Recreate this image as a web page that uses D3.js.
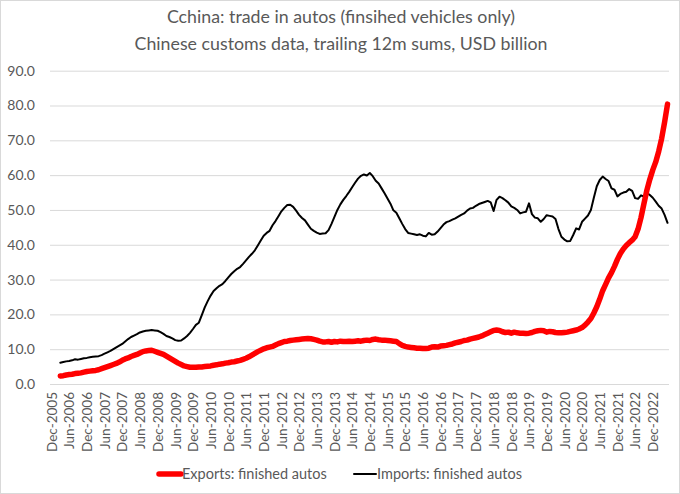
<!DOCTYPE html>
<html><head><meta charset="utf-8">
<script src="https://cdn.jsdelivr.net/npm/d3@7"></script>
<style>
body{margin:0;background:#fff;}
svg{display:block;font-family:Lato,"Open Sans",sans-serif;}
</style></head><body>
<svg id="c" width="680" height="494"></svg>
<script>
// Categories: monthly, Dec-2005 .. May-2023
const startMonth = new Date(2005, 11, 1);
const endMonth = new Date(2023, 4, 1);
const months = d3.timeMonth.range(startMonth, d3.timeMonth.offset(endMonth, 1));
const yTicks = [0,10,20,30,40,50,60,70,80,90];
const titleLines = ["Cchina: trade in autos (finsihed vehicles only)", "Chinese customs data, trailing 12m sums, USD billion"];
const seriesNames = ["Exports: finished autos", "Imports: finished autos"];

// Exports (red) – first 3 months empty
const exportsVals = [null,null,null,
2.3,2.4,2.6,2.7,2.8,3.0,3.1,3.2,3.4,3.6,3.7,3.8,3.9,4.1,4.4,4.7,5.0,5.3,5.6,5.9,6.3,6.8,7.2,7.5,7.9,8.2,8.5,8.9,9.3,9.5,9.6,9.7,9.4,9.1,8.8,8.5,8.0,7.5,7.0,6.5,6.0,5.6,5.2,5.0,4.8,4.8,4.8,4.9,4.9,5.0,5.1,5.2,5.4,5.5,5.7,5.8,6.0,6.1,6.3,6.4,6.6,6.8,7.1,7.4,7.8,8.3,8.8,9.3,9.7,10.1,10.4,10.6,10.8,11.2,11.6,11.9,12.2,12.3,12.5,12.6,12.7,12.8,12.9,13.0,13.1,13.0,12.8,12.6,12.3,12.1,12.1,12.2,12.0,12.2,12.1,12.3,12.2,12.2,12.3,12.2,12.3,12.4,12.3,12.5,12.6,12.5,12.8,12.9,12.7,12.6,12.6,12.5,12.4,12.3,12.2,11.6,11.1,10.8,10.6,10.5,10.4,10.3,10.3,10.2,10.2,10.3,10.6,10.7,10.6,10.9,11.0,11.1,11.3,11.5,11.8,12.0,12.2,12.5,12.6,12.9,13.1,13.3,13.5,13.8,14.2,14.6,15.0,15.4,15.5,15.4,15.0,14.8,14.9,14.6,14.9,14.7,14.6,14.6,14.5,14.6,14.8,15.1,15.3,15.4,15.3,14.9,15.1,15.0,14.8,14.7,14.7,14.8,14.9,15.1,15.3,15.5,15.8,16.2,16.9,17.8,18.8,20.4,22.2,24.4,26.8,28.6,30.5,32.0,33.8,35.8,37.5,38.8,39.8,40.6,41.3,42.3,44.5,47.8,51.8,55.7,58.8,61.5,63.8,66.8,70.5,75.2,80.4];

// Imports (black)
const importsVals = [null,null,null,
6.1,6.3,6.5,6.6,6.8,7.1,7.0,7.2,7.4,7.5,7.7,7.8,7.9,8.0,8.3,8.7,9.1,9.5,10.0,10.5,11.0,11.5,12.2,12.9,13.5,13.9,14.3,14.8,15.1,15.3,15.4,15.5,15.4,15.3,14.9,14.4,13.8,13.5,13.1,12.6,12.4,12.5,13.1,13.8,14.7,15.8,17.0,17.6,19.8,22.0,23.8,25.4,26.7,27.5,28.2,28.7,29.6,30.6,31.6,32.4,33.1,33.6,34.5,35.5,36.5,37.4,38.4,39.8,41.2,42.6,43.4,44.0,45.6,46.8,48.2,49.6,50.6,51.4,51.5,50.9,49.8,48.6,47.7,47.0,45.8,44.6,44.0,43.5,43.1,43.2,43.3,44.2,46.0,48.0,50.0,51.6,52.9,54.0,55.2,56.5,57.8,59.0,59.8,60.2,59.9,60.6,59.7,58.4,57.6,56.2,54.8,53.3,51.8,49.9,49.2,47.6,46.0,44.5,43.4,43.2,43.0,42.8,43.0,42.6,42.4,43.4,42.9,43.0,43.8,44.8,45.8,46.5,46.8,47.2,47.6,48.1,48.6,49.0,49.8,50.4,50.6,51.2,51.7,52.0,52.3,52.6,52.2,49.7,52.9,53.8,53.4,52.8,52.1,51.0,50.6,50.0,49.0,49.3,49.5,51.9,48.8,47.8,47.6,46.6,47.4,48.5,48.3,48.1,47.4,44.5,42.3,41.5,41.0,41.1,42.8,44.7,44.4,46.6,47.5,48.4,50.0,53.5,56.8,58.6,59.6,58.9,58.3,56.2,55.8,53.9,54.6,55.0,55.2,56.0,55.5,53.4,53.2,54.2,53.8,54.9,54.3,53.5,52.4,51.2,50.4,48.6,46.3];

const svg = d3.select("#c");
const W = 680, H = 494;
const plot = {left: 50, right: 669, top: 70.7, bottom: 384};
const fmtM = d3.timeFormat("%b-%Y");

// outer border
svg.append("rect").attr("x",0.5).attr("y",0.5).attr("width",W-1).attr("height",H-1)
  .attr("fill","#fff").attr("stroke","#d9d9d9");

const x = d3.scalePoint().domain(months.map(d=>+d)).range([plot.left, plot.right]).padding(0.5);
const y = d3.scaleLinear().domain([0,90]).range([plot.bottom, plot.top]);

// title
svg.append("g").selectAll("text").data(titleLines).join("text")
  .attr("x", 341).attr("y",(d,i)=>23+i*27).attr("text-anchor","middle")
  .attr("font-size",17.8).attr("fill","#595959").text(d=>d);

// y grid + labels
const yAxis = d3.axisLeft(y).tickValues(yTicks).tickSize(-(plot.right-plot.left)).tickFormat(d3.format(".1f"));
const gy = svg.append("g").attr("transform",`translate(${plot.left},0)`).call(yAxis);
gy.select(".domain").remove();
gy.selectAll(".tick line").attr("stroke","#d9d9d9").attr("stroke-width",1);
gy.selectAll(".tick text").attr("x",-15).attr("font-size",14).attr("fill","#595959")
  .attr("font-family","Lato,'Open Sans',sans-serif");

// x axis labels every 6 months
const tickMonths = months.filter((d,i)=>i%6===0).map(d=>+d);
const xAxis = d3.axisBottom(x).tickValues(tickMonths).tickSize(0).tickFormat(d=>fmtM(new Date(d)));
const gx = svg.append("g").attr("transform",`translate(0,${plot.bottom})`).call(xAxis);
gx.select(".domain").remove();
gx.selectAll(".tick text").attr("transform","rotate(-90)").attr("text-anchor","end")
  .attr("x",-8).attr("y",0).attr("dy","0.35em").attr("font-size",13.5).attr("fill","#595959")
  .attr("font-family","Lato,'Open Sans',sans-serif");

// lines
const lineGen = vals => d3.line().defined((d,i)=>vals[i]!==null)
  .x((d,i)=>x(+months[i])).y((d,i)=>y(vals[i]))(vals);
svg.append("path").attr("d",lineGen(importsVals)).attr("fill","none").attr("stroke","#000")
  .attr("stroke-width",2).attr("stroke-linejoin","round").attr("stroke-linecap","round");
svg.append("path").attr("d",lineGen(exportsVals)).attr("fill","none").attr("stroke","#ff0000")
  .attr("stroke-width",5.5).attr("stroke-linejoin","round").attr("stroke-linecap","round");

// legend
const legend = [{name:seriesNames[0], color:"#ff0000", w:5.5, x0:159},{name:seriesNames[1], color:"#000", w:2, x0:354}];
const lg = svg.append("g");
legend.forEach(l=>{
  lg.append("line").attr("x1",l.x0).attr("x2",l.x0+22).attr("y1",474).attr("y2",474)
    .attr("stroke",l.color).attr("stroke-width",l.w).attr("stroke-linecap","round");
  lg.append("text").attr("x",l.x0+23).attr("y",479).attr("font-size",14.5).attr("fill","#595959").text(l.name);
});
</script>
</body></html>
